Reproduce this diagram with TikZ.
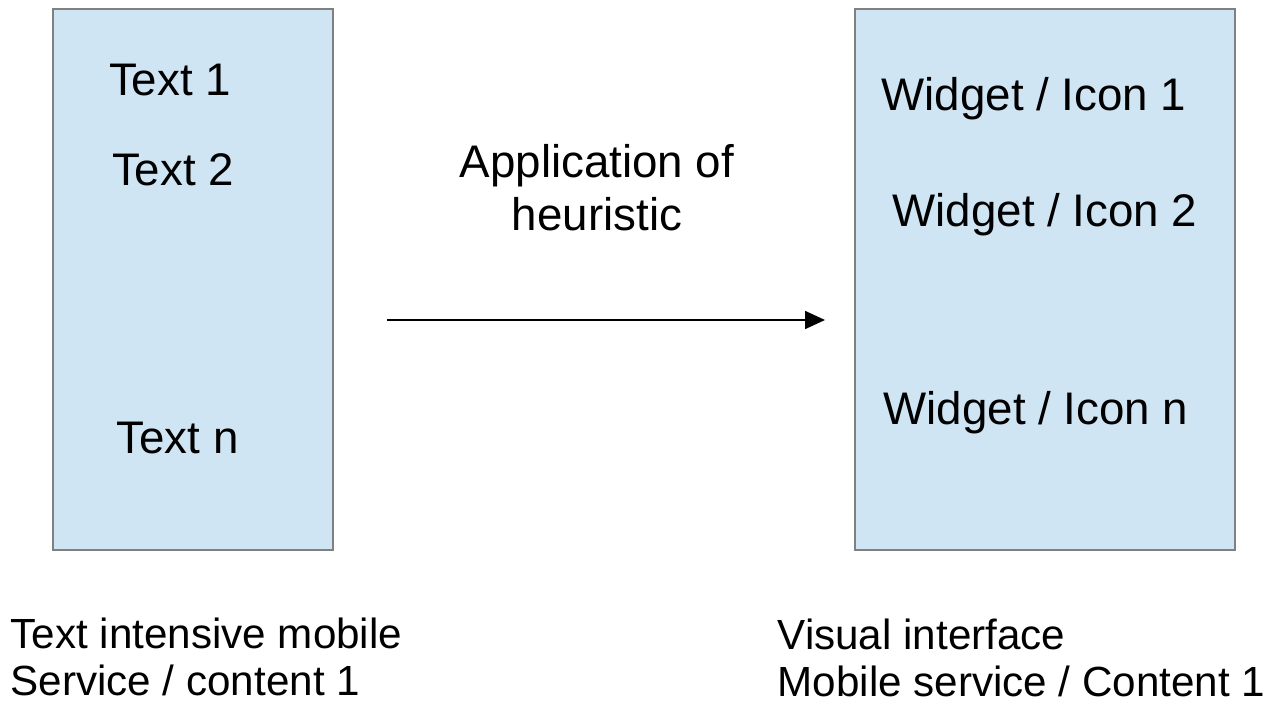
\documentclass[tikz,border=0pt]{standalone}
\usepackage{fontspec}
\setmainfont{Liberation Sans}
\usetikzlibrary{arrows.meta, positioning}
\definecolor{colBoxfill}{HTML}{CFE5F3}
\definecolor{colBoxbdr} {HTML}{808080}

\tikzset{
  screenbox/.style={draw=colBoxbdr, fill=colBoxfill, line width=0.45pt,
    minimum width=2.80cm, minimum height=5.41cm, inner sep=0pt, outer sep=0pt},
  caption/.style={anchor=west, align=left, inner sep=0pt,
    font=\fontsize{12}{13.4}\selectfont},
}

\begin{document}
\begin{tikzpicture}[font=\fontsize{13}{15}\selectfont]
				\useasboundingbox (0,0) rectangle (12.74,7.04);
				% the two screens
				\node[screenbox] (txtScreen) at (1.93,4.245) {};
				\node[screenbox, minimum width=3.80cm] (visScreen) at (10.45,4.245) {};
				% items on the text screen
				\node (txtOne) at (1.70,6.24) {Text 1};
				\node (txtTwo) at (1.73,5.34) {Text 2};
				\node (txtN)   at (1.775,2.66) {Text n};
				% items on the visual screen
				\node (wdgOne) at (10.34,6.05) {Widget / Icon 1};
				\node (wdgTwo) at (10.45,4.89) {Widget / Icon 2};
				\node (wdgN)   at (10.36,2.91) {Widget / Icon n};
				% heuristic step
				\node[align=center] (heurLbl) at (5.97,5.16) {Application of\\heuristic};
				\coordinate (arrS) at (3.87,3.84);
				\coordinate (arrE) at (8.25,3.84);
				\draw[line width=0.45pt, -{Triangle[length=0.2cm, width=0.18cm]}] (arrS) -- (arrE);
				% captions
				\node[caption] (txtCap) at (0.10,0.47)
				{Text intensive mobile\\Service / content 1};
				\node[caption] (visCap) at (7.77,0.46)
				{Visual interface\\Mobile service / Content 1};
		\end{tikzpicture}
\end{document}
